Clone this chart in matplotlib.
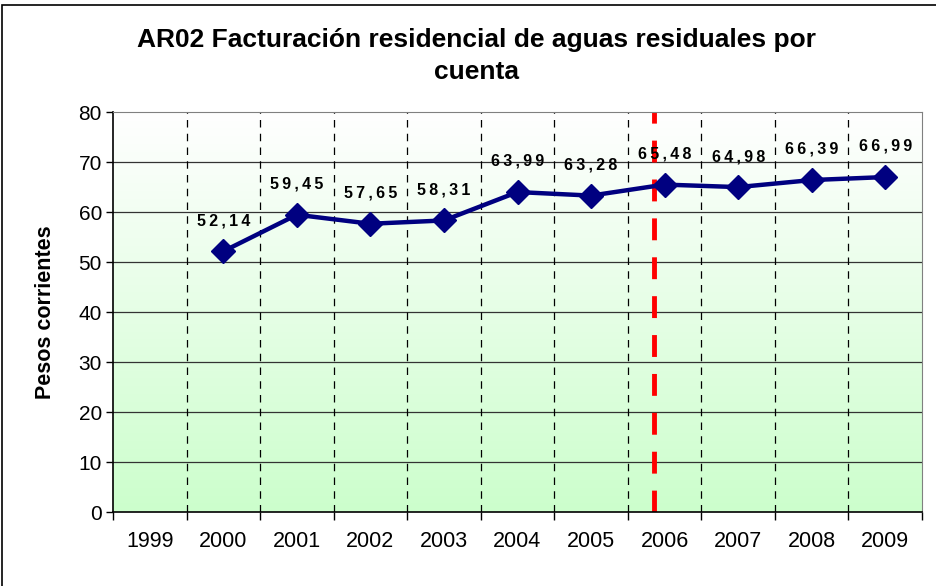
import numpy as np
import matplotlib
matplotlib.use("Agg")
import matplotlib.pyplot as plt
from matplotlib.patches import Rectangle

plt.rcParams['font.family'] = ['Liberation Sans', 'DejaVu Sans']

# data
years = ['1999', '2000', '2001', '2002', '2003', '2004', '2005', '2006', '2007', '2008', '2009']
line_years = ['2000', '2001', '2002', '2003', '2004', '2005', '2006', '2007', '2008', '2009']
values = [52.14, 59.45, 57.65, 58.31, 63.99, 63.28, 65.48, 64.98, 66.39, 66.99]
yticks = [0, 10, 20, 30, 40, 50, 60, 70, 80]

fig = plt.figure(figsize=(9.36, 5.86), dpi=100)
ax = fig.add_axes([113 / 936, 1 - 512 / 586, 809 / 936, 400 / 586])

# outer frame of the chart
fig.patches.append(Rectangle((2 / 936, -0.05), 1.05, 1 - 5 / 586 + 0.05,
                             transform=fig.transFigure, fill=False,
                             edgecolor='black', linewidth=1.2))

n = len(years)

# background gradient: white at top, light green at bottom
grad = np.linspace(1, 0, 256).reshape(-1, 1)
cmap = matplotlib.colors.LinearSegmentedColormap.from_list('g', ['#ffffff', '#ccfecc'])
ax.imshow(grad, extent=(-0.5, n - 0.5, 0, 80), origin='lower', aspect='auto',
          cmap=cmap, zorder=0)
ax.set_xlim(-0.5, n - 0.5)
ax.set_ylim(0, 80)

for y in yticks[1:-1]:
    ax.axhline(y, color='#333333', linewidth=0.9, zorder=1)
for b in np.arange(0.5, n - 1, 1):
    ax.axvline(b, color='black', linewidth=0.9, linestyle=(0, (6, 5)), zorder=1)

ax.axvline(6.85, color='#ff0000', linewidth=3.5, linestyle=(0, (4.5, 3.5)), zorder=2)

xs = [years.index(y) for y in line_years]
ax.plot(xs, values, color='#000080', linewidth=3.2, marker='D', markersize=12,
        markeredgecolor='#000080', zorder=3)

for x, v in zip(xs, values):
    txt = ('%.2f' % v).replace('.', ',')
    txt = '\u2009'.join(txt)
    ax.annotate(txt, (x, v), xytext=(0, 22), textcoords='offset points',
                ha='center', va='center', fontsize=11.5, fontweight='bold')

ax.set_yticks(yticks)
ax.set_yticklabels([str(t) for t in yticks], fontsize=15)
ax.set_xticks(np.arange(-0.5, n, 1))
ax.set_xticklabels([])
ax.set_xticks(np.arange(n), minor=True)
ax.set_xticklabels(years, minor=True, fontsize=15.5)
ax.tick_params(axis='x', which='minor', length=0, pad=14)
ax.tick_params(axis='x', which='major', length=6, width=1, direction='out')
ax.tick_params(axis='y', length=5, width=1, direction='out', pad=3)

ax.spines['left'].set_color('black')
ax.spines['bottom'].set_color('black')
ax.spines['left'].set_linewidth(1.2)
ax.spines['bottom'].set_linewidth(1.2)
ax.spines['top'].set_color('#808080')
ax.spines['right'].set_color('#808080')

ax.set_ylabel('Pesos corrientes', fontsize=15.5, fontweight='bold', labelpad=16)
fig.text(477 / 936, 1 - 56 / 586, 'AR02 Facturación residencial de aguas residuales por\ncuenta',
         ha='center', va='center', fontsize=19, fontweight='bold', linespacing=1.45)

fig.savefig('out.png', dpi=100)
